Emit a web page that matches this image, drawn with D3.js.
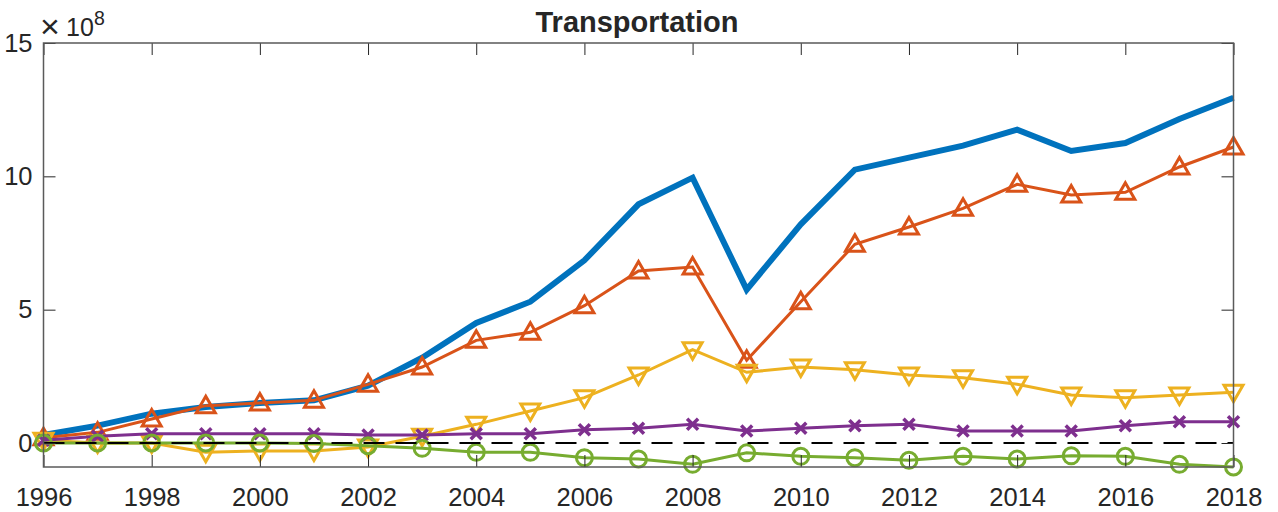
<!DOCTYPE html>
<html>
<head>
<meta charset="utf-8">
<title>Transportation</title>
<script src="https://d3js.org/d3.v7.min.js"></script>
<style>
  body { margin: 0; background: #fff; }
  svg text { font-family: "Liberation Sans", Arial, sans-serif; fill: #262626; }
</style>
</head>
<body>
<div id="chart"></div>
<script>
// years on the x axis
const years = d3.range(1996, 2019);

// series values, in units of 1e8
const total   = [0.3, 0.65, 1.1, 1.35, 1.5, 1.6, 2.15, 3.2, 4.5, 5.3, 6.85, 8.95, 9.95, 5.75, 8.2, 10.25, 10.7, 11.15, 11.75, 10.95, 11.25, 12.15, 12.95];
const seriesA = [0.2, 0.4, 0.9, 1.4, 1.5, 1.6, 2.2, 2.85, 3.85, 4.15, 5.15, 6.45, 6.6, 3.1, 5.3, 7.45, 8.1, 8.8, 9.7, 9.3, 9.4, 10.35, 11.1];
const seriesB = [0.1, 0.0, 0.0, -0.35, -0.3, -0.3, -0.15, 0.25, 0.7, 1.2, 1.7, 2.55, 3.5, 2.65, 2.85, 2.75, 2.55, 2.45, 2.2, 1.8, 1.7, 1.8, 1.9];
const seriesC = [0.1, 0.25, 0.35, 0.35, 0.35, 0.35, 0.3, 0.3, 0.35, 0.35, 0.5, 0.55, 0.7, 0.45, 0.55, 0.65, 0.7, 0.45, 0.45, 0.45, 0.65, 0.8, 0.8];
const seriesD = [0.0, 0.0, 0.0, 0.0, 0.0, -0.02, -0.1, -0.2, -0.35, -0.35, -0.55, -0.6, -0.8, -0.37, -0.5, -0.55, -0.65, -0.5, -0.6, -0.48, -0.5, -0.8, -0.9];

const xTicks = d3.range(1996, 2019, 2);
const yTicks = [0, 5, 10, 15];

const width = 1278, height = 512;
const margin = { left: 43.5, right: 44.5, top: 43, bottom: 45 };

const svg = d3.select("#chart").append("svg")
  .attr("width", width).attr("height", height);

const x = d3.scaleLinear().domain([1996, 2018]).range([margin.left, width - margin.right]);
const y = d3.scaleLinear().domain([-0.9, 15]).range([height - margin.bottom, margin.top]);

const series = [
  { v: total,   color: "#0072BD", w: 6,   marker: null },
  { v: seriesA, color: "#D95319", w: 3,   marker: "up" },
  { v: seriesB, color: "#EDB120", w: 3,   marker: "down" },
  { v: seriesC, color: "#7E2F8E", w: 3,   marker: "x" },
  { v: seriesD, color: "#77AC30", w: 3,   marker: "o" }
];

const line = d3.line().x((d, i) => x(years[i])).y(d => y(d));

const plot = svg.append("g");

series.forEach(s => {
  plot.append("path")
    .datum(s.v)
    .attr("fill", "none")
    .attr("stroke", s.color)
    .attr("stroke-width", s.w)
    .attr("stroke-linejoin", "miter")
    .attr("d", line);

  if (!s.marker) return;
  const g = plot.append("g")
    .attr("fill", "none")
    .attr("stroke", s.color)
    .attr("stroke-width", 3);
  s.v.forEach((d, i) => {
    const cx = x(years[i]), cy = y(d);
    if (s.marker === "up") {
      g.append("path").attr("d", `M${cx},${cy - 9.5}L${cx + 9.5},${cy + 7}L${cx - 9.5},${cy + 7}Z`);
    } else if (s.marker === "down") {
      g.append("path").attr("d", `M${cx},${cy + 9.5}L${cx + 9.5},${cy - 7}L${cx - 9.5},${cy - 7}Z`);
    } else if (s.marker === "x") {
      g.append("path").attr("stroke-width", 3.5)
        .attr("d", `M${cx - 5.5},${cy - 5.5}L${cx + 5.5},${cy + 5.5}M${cx + 5.5},${cy - 5.5}L${cx - 5.5},${cy + 5.5}`);
    } else {
      g.append("circle").attr("cx", cx).attr("cy", cy).attr("r", 8);
    }
  });
});

// zero reference line
plot.append("line")
  .attr("x1", x(1996)).attr("x2", x(2018))
  .attr("y1", y(0)).attr("y2", y(0))
  .attr("stroke", "#000")
  .attr("stroke-width", 2)
  .attr("stroke-dasharray", "21,11");

// axes box with inward ticks on all sides
const x0 = margin.left, x1 = width - margin.right;
const y0 = height - margin.bottom, y1 = margin.top;
const tickLen = 12;

const axBottom = svg.append("g").attr("transform", `translate(0,${y0})`)
  .call(d3.axisBottom(x).tickValues(xTicks).tickFormat(d3.format("d")).tickSizeInner(-tickLen).tickSizeOuter(0).tickPadding(21));
const axTop = svg.append("g").attr("transform", `translate(0,${y1})`)
  .call(d3.axisTop(x).tickValues(xTicks).tickFormat("").tickSizeInner(-tickLen).tickSizeOuter(0));
const axLeft = svg.append("g").attr("transform", `translate(${x0},0)`)
  .call(d3.axisLeft(y).tickValues(yTicks).tickSizeInner(-tickLen).tickSizeOuter(0).tickPadding(11));
const axRight = svg.append("g").attr("transform", `translate(${x1},0)`)
  .call(d3.axisRight(y).tickValues(yTicks).tickFormat("").tickSizeInner(-tickLen).tickSizeOuter(0));

[axBottom, axTop, axLeft, axRight].forEach(a => {
  a.select(".domain").remove();
  a.selectAll(".tick line").attr("stroke", "#262626").attr("stroke-width", 1);
  a.selectAll(".tick text").attr("font-size", 25.5).attr("fill", "#262626");
});

svg.append("rect")
  .attr("x", x0).attr("y", y1)
  .attr("width", x1 - x0).attr("height", y0 - y1)
  .attr("fill", "none")
  .attr("stroke", "#5a5a5a")
  .attr("stroke-width", 1.5);

// exponent label
svg.append("text").attr("x", 40).attr("y", 38).attr("font-size", 34).attr("font-weight", 300).text("\u00d7");
svg.append("text").attr("x", 66).attr("y", 35.5).attr("font-size", 25).text("10");
svg.append("text").attr("x", 94).attr("y", 25).attr("font-size", 19.5).text("8");

// title
svg.append("text")
  .attr("x", 637).attr("y", 31.5)
  .attr("text-anchor", "middle")
  .attr("font-size", 29).attr("font-weight", "bold")
  .attr("fill", "#000")
  .text("Transportation");
</script>
</body>
</html>
